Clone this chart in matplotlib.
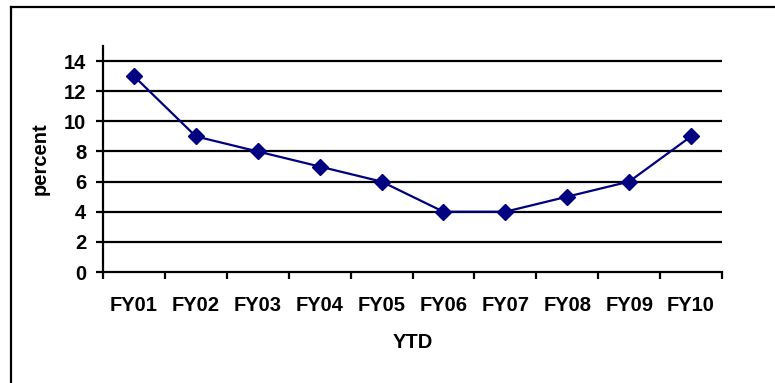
import matplotlib
matplotlib.use("Agg")
import matplotlib.pyplot as plt
from matplotlib.lines import Line2D

categories = ["FY01", "FY02", "FY03", "FY04", "FY05", "FY06", "FY07", "FY08", "FY09", "FY10"]
values = [13, 9, 8, 7, 6, 4, 4, 5, 6, 9]
yticks = [0, 2, 4, 6, 8, 10, 12, 14]

plt.rcParams['font.family'] = ['Liberation Sans', 'DejaVu Sans']
W, H = 775, 383
fig = plt.figure(figsize=(W / 100, H / 100), dpi=100)

# outer frame (top and left edges visible, cut off at right and bottom)
fig.add_artist(Line2D([11 / W, 11 / W], [0, 1 - 7 / H], color='black', lw=1.6, transform=fig.transFigure))
fig.add_artist(Line2D([11 / W, 1], [1 - 7 / H, 1 - 7 / H], color='black', lw=1.6, transform=fig.transFigure))

ax = fig.add_axes([103 / W, 111 / H, 619 / W, 226 / H])
x = list(range(len(categories)))
ax.set_xlim(-0.5, len(categories) - 0.5)
ax.set_ylim(0, 15)

for y in yticks[1:]:
    ax.axhline(y, color='black', lw=1.6, zorder=1)

ax.plot(x, values, color='#000080', lw=1.6, marker='D', markersize=8,
        markerfacecolor='#000080', markeredgecolor='#000080', zorder=3, clip_on=False)

for s in ['top', 'right']:
    ax.spines[s].set_visible(False)
ax.spines['left'].set_linewidth(1.6)
ax.spines['bottom'].set_linewidth(1.6)

fs = 14.5
ax.set_yticks(yticks)
ax.set_yticklabels([str(v) for v in yticks], fontsize=fs, fontweight='bold')
ax.tick_params(axis='y', length=5, width=1.6, pad=7)

ax.set_xticks([i - 0.5 for i in range(len(categories) + 1)])
ax.set_xticklabels([])
ax.set_xticks(x, minor=True)
ax.set_xticklabels(categories, minor=True, fontsize=fs, fontweight='bold')
ax.tick_params(axis='x', which='major', length=5, width=1.6)
ax.tick_params(axis='x', which='minor', length=0, pad=17)

ax.set_ylabel('percent', fontsize=fs, fontweight='bold', labelpad=10)
ax.set_xlabel('YTD', fontsize=fs, fontweight='bold', labelpad=13)

fig.savefig('out.png', dpi=100)
